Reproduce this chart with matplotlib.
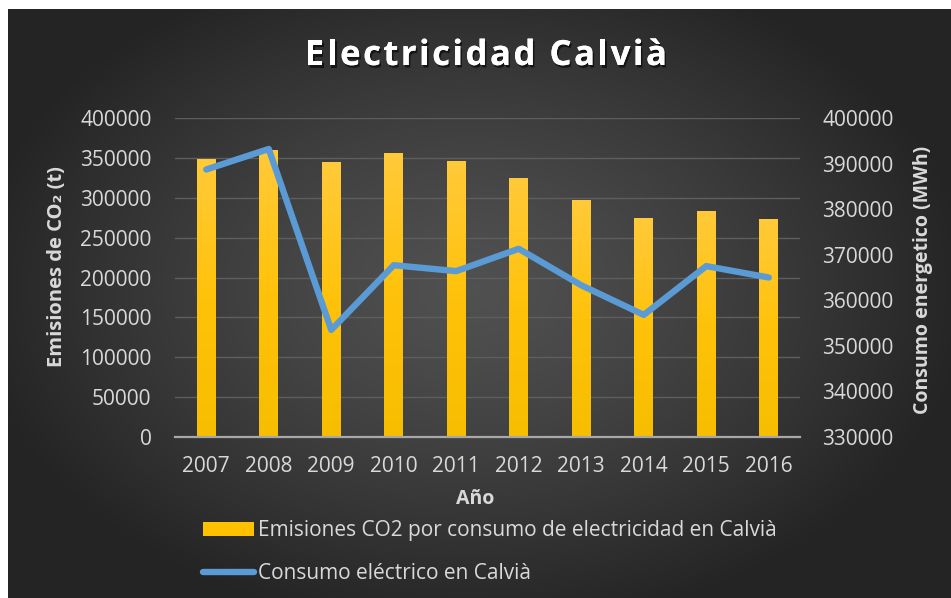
import numpy as np
import matplotlib
matplotlib.use("Agg")
import matplotlib.pyplot as plt
from matplotlib.colors import LinearSegmentedColormap
from matplotlib.lines import Line2D
from matplotlib.patches import Patch
from matplotlib.font_manager import FontProperties
import matplotlib.patheffects as pe

plt.rcParams['font.family'] = ['Open Sans', 'DejaVu Sans']

# ---- data ----
years = ["2007", "2008", "2009", "2010", "2011", "2012", "2013", "2014", "2015", "2016"]
emisiones = [349000, 360000, 344500, 356500, 346000, 325000, 297000, 274000, 283500, 273000]
consumo = [388700, 393200, 353500, 367700, 366400, 371300, 363300, 356800, 367500, 365000]
left_ticks = [0, 50000, 100000, 150000, 200000, 250000, 300000, 350000, 400000]
right_ticks = [330000, 340000, 350000, 360000, 370000, 380000, 390000, 400000]

title = "Electricidad Calvià"
ylabel_left = "Emisiones de CO₂ (t)"
ylabel_right = "Consumo energetico (MWh)"
xlabel = "Año"
label_bars = "Emisiones CO2 por consumo de electricidad en Calvià"
label_line = "Consumo eléctrico en Calvià"

W, H = 951, 598
fig = plt.figure(figsize=(W / 100, H / 100), dpi=100, facecolor="white")

# ---- background with radial gradient ----
bg = fig.add_axes([8 / W, 0, 1 - 8 / W, 1 - 9 / H], zorder=-5)
gx = np.linspace(-1, 1, 400)
gy = np.linspace(-1, 1, 260)
GX, GY = np.meshgrid(gx, gy)
cx, cy = -0.02, 0.05
r = np.sqrt(((GX - cx) / 1.05) ** 2 + ((GY - cy) / 1.15) ** 2)
r = np.clip(r, 0, 1)
val = 0.145 + 0.17 * (1 - r ** 1.3)
img = np.dstack([val, val, val])
bg.imshow(img, extent=[0, 1, 0, 1], aspect="auto", origin="lower", interpolation="bilinear")
bg.set_axis_off()

# ---- main axes ----
ax = fig.add_axes([175 / W, 1 - 437 / H, 625 / W, 319 / H])
ax.set_facecolor("none")
x = np.arange(len(years))
bars = ax.bar(x, emisiones, width=0.3, color="#FFC000", zorder=3, linewidth=0)

cmap = LinearSegmentedColormap.from_list("gold", ["#F7BE00", "#FFC20A", "#FFCA3A"])
grad = np.linspace(0, 1, 256).reshape(-1, 1)
for b in bars:
    x0, y0 = b.get_xy()
    w, h = b.get_width(), b.get_height()
    im = ax.imshow(grad, extent=[x0, x0 + w, y0, y0 + h], aspect="auto",
                   cmap=cmap, origin="lower", zorder=3.1)
    im.set_clip_path(b)

ax.set_xlim(-0.5, len(years) - 0.5)
ax.set_ylim(0, 400000)
ax.set_yticks(left_ticks)
ax.set_yticklabels([str(t) for t in left_ticks])
ax.set_xticks(x)
ax.set_xticklabels(years)
ax.grid(axis="y", color="#5e5e5e", linewidth=1.0, zorder=0)
ax.set_axisbelow(True)
for s in ["top", "right", "left"]:
    ax.spines[s].set_visible(False)
ax.spines["bottom"].set_color("#a8a8a8")
ax.spines["bottom"].set_linewidth(1.6)
ax.spines["bottom"].set_zorder(4)
ax.tick_params(axis="y", length=0, pad=17, labelsize=15, labelcolor="#d9d9d9")
ax.tick_params(axis="x", length=0, pad=14, labelsize=15, labelcolor="#d9d9d9")

ax2 = ax.twinx()
ax2.set_facecolor("none")
ln, = ax2.plot(x, consumo, color="#5B9BD5", linewidth=4.6,
               solid_capstyle="round", solid_joinstyle="round", zorder=5)
ax2.set_ylim(330000, 400000)
ax2.set_yticks(right_ticks)
ax2.set_yticklabels([str(t) for t in right_ticks])
for s in ax2.spines.values():
    s.set_visible(False)
ax2.tick_params(axis="y", length=0, pad=16, labelsize=15, labelcolor="#d9d9d9")

# ---- title with letter spacing ----
renderer = fig.canvas.get_renderer()
tprops = FontProperties(family=['Open Sans', 'DejaVu Sans'], weight="bold", size=25)
widths = []
for ch in title:
    wpx, hpx, dpx = renderer.get_text_width_height_descent(ch, tprops, ismath=False)
    widths.append(wpx)
target_left, target_right = 305.0, 667.0
spacing = (target_right - target_left - sum(widths)) / (len(title) - 1)
xpos = target_left
shadow = [pe.withSimplePatchShadow(offset=(1.2, -1.8), shadow_rgbFace="black", alpha=0.6), pe.Normal()]
for ch, wpx in zip(title, widths):
    if ch != " ":
        fig.text(xpos / W, 1 - 65 / H, ch, ha="left", va="baseline",
                 fontproperties=tprops, color="white", path_effects=shadow)
    xpos += wpx + spacing

# ---- axis labels ----
fig.text(57 / W, 1 - 267 / H, ylabel_left, rotation=90, ha="center", va="center",
         fontsize=14.5, fontweight="bold", color="#d9d9d9")
fig.text(923 / W, 1 - 280 / H, ylabel_right, rotation=90, ha="center", va="center",
         fontsize=14, fontweight="bold", color="#d9d9d9")
fig.text(475 / W, 1 - 504 / H, xlabel, ha="center", va="baseline",
         fontsize=14, fontweight="bold", color="#d9d9d9")

# ---- legend ----
h1 = Patch(facecolor="#FFC000", edgecolor="none")
h2 = Line2D([0], [0], color="#5B9BD5", linewidth=4.6, solid_capstyle="round")
leg = fig.legend([h1, h2], [label_bars, label_line], loc="upper left",
                 bbox_to_anchor=(203 / W, 1 - 520 / H), bbox_transform=fig.transFigure,
                 frameon=False, fontsize=15, handlelength=2.45, handleheight=0.65,
                 handletextpad=0.2, labelspacing=1.05, borderpad=0, borderaxespad=0,
                 labelcolor="#d9d9d9")

fig.savefig("out.png", dpi=100, facecolor="white")
